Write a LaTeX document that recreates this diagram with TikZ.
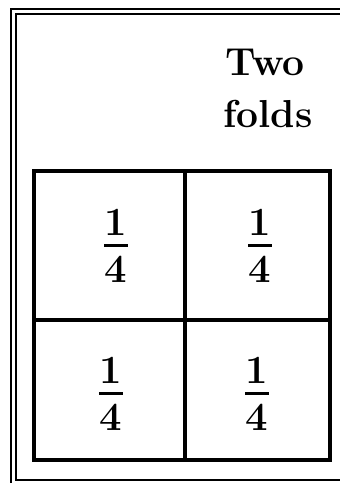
\RequirePackage{fix-cm}
\documentclass[tikz,border=0pt]{standalone}
\usetikzlibrary{positioning}
\newcommand{\quarterfrac}{\vbox{\offinterlineskip\halign{\hfil##\hfil\cr
  1\cr\noalign{\kern8pt}\rule{24pt}{3.5pt}\cr\noalign{\kern8.5pt}4\cr}}}
\begin{document}
\begin{tikzpicture}[x=1pt,y=-1pt,
  frameline/.style={line width=2pt},
  gridline/.style={line width=4pt},
  head/.style={font=\fontsize{39}{52}\selectfont\bfseries,inner sep=0pt,anchor=base},
  quarter/.style={font=\fontsize{40}{48}\selectfont\bfseries,inner sep=0pt}]
  \useasboundingbox (0,0) rectangle (340,483);
  \clip (0,0) rectangle (340,483);
  % double frame, cut by the page at right and bottom
  \draw[frameline] (11,9) rectangle (360,500);
  \draw[frameline] (16,14) rectangle (355,480);
  % heading
  \node[head] (two) at (265,75) {Two};
  \node[head] (folds) at (268,127) {folds};
  % the folded sheet
  \draw[gridline] (34,171) rectangle (330,460);
  \draw[gridline] (185,171) -- (185,460);
  \draw[gridline] (34,320) -- (330,320);
  \foreach \n/\x/\y in {tl/116/246,tr/260/246,bl/111/394,br/257/394}
    \node[quarter] (\n) at (\x,\y) {\quarterfrac};
\end{tikzpicture}
\end{document}
